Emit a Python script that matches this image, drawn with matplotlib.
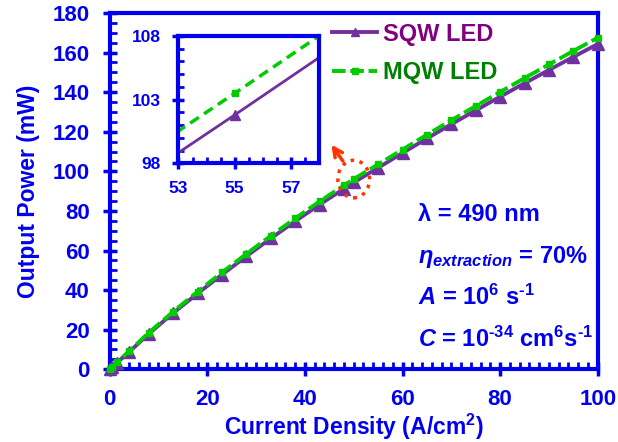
import numpy as np
import matplotlib
matplotlib.use('Agg')
import matplotlib.pyplot as plt
from matplotlib.ticker import MultipleLocator, FixedLocator
from matplotlib.patches import Ellipse

plt.rcParams['font.family'] = ['Liberation Sans', 'DejaVu Sans']
plt.rcParams['font.weight'] = 'bold'
plt.rcParams['mathtext.fontset'] = 'custom'
plt.rcParams['mathtext.rm'] = 'Liberation Sans:bold'
plt.rcParams['mathtext.it'] = 'Liberation Sans:italic:bold'
plt.rcParams['mathtext.bf'] = 'Liberation Sans:bold'

# Datos
densidad = [0, 0.5, 1.5, 4, 8, 13, 18, 23, 28, 33, 38, 43, 48, 50,
            55, 60, 65, 70, 75, 80, 85, 90, 95, 100]
potencia_sqw = [0, 1.1, 3.4, 8.8, 17.9, 28.4, 38.3, 47.8, 57.1, 66.1, 74.8, 83.2, 91.2, 94.4,
                101.8, 109.3, 116.6, 123.8, 130.8, 137.7, 144.5, 151.2, 157.8, 164.3]
potencia_mqw = [0, 1.2, 3.6, 9.2, 18.5, 29.1, 39.2, 48.9, 58.3, 67.4, 76.2, 84.8, 92.9, 96.1,
                103.5, 111.0, 118.5, 125.8, 133.0, 140.1, 147.1, 154.0, 160.8, 167.5]
etiquetas = ['SQW LED', 'MQW LED']
x_zoom = 50  # punto marcado con el circulo
ticks_x_zoom = [53, 55, 57]
ticks_y_zoom = [98, 103, 108]

azul = '#0000EE'
morado = '#7030A0'
verde = '#00CC00'
rojo = '#FF3300'

fig = plt.figure(figsize=(6.18, 4.42), dpi=100)
ax = fig.add_axes([0.1775, 0.1645, 0.7897, 0.8061])

ax.plot(densidad, potencia_sqw, color=morado, lw=2.8, marker='^', ms=8,
        label=etiquetas[0], clip_on=False, zorder=3)
ax.plot(densidad, potencia_mqw, color=verde, lw=2.8, ls=(0, (3.5, 1.2)), marker='s', ms=5,
        label=etiquetas[1], clip_on=False, zorder=4)

ax.set_xlim(0, 100)
ax.set_ylim(0, 180)
ax.xaxis.set_major_locator(MultipleLocator(20))
ax.xaxis.set_minor_locator(MultipleLocator(2))
ax.yaxis.set_major_locator(MultipleLocator(20))
ax.yaxis.set_minor_locator(MultipleLocator(5))
for s in ax.spines.values():
    s.set_color(azul)
    s.set_linewidth(3)
ax.tick_params(which='major', direction='inout', length=10, width=2.5, color=azul,
               labelcolor=azul, labelsize=16, pad=9.5)
ax.tick_params(which='minor', direction='in', length=5, width=2, color=azul)
for lab in ax.get_xticklabels() + ax.get_yticklabels():
    lab.set_fontweight('bold')

ax.set_xlabel('Current Density (A/cm$^{2}$)', color=azul, fontsize=16.5, fontweight='bold', labelpad=1)
ax.set_ylabel('Output Power (mW)', color=azul, fontsize=16.5, fontweight='bold', labelpad=9)

leg = ax.legend(loc='upper left', bbox_to_anchor=(0.432, 1.006), frameon=False, fontsize=17,
                handlelength=1.9, handletextpad=0.25, labelspacing=0.65, borderpad=0,
                markerscale=0.8, labelcolor=['#800080', '#008000'])
for t in leg.get_texts():
    t.set_fontweight('bold')

# Textos de parametros
kw = dict(transform=ax.transAxes, color=azul, fontsize=17, fontweight='bold', va='baseline', ha='left')
ax.text(0.632, 0.416, 'λ = 490 nm', **kw)
ax.text(0.632, 0.298, r'$\eta_{extraction}$ = 70%', **kw)
ax.text(0.632, 0.180, r'$A$ = 10$^{6}$ s$^{\text{-}1}$', **kw)
ax.text(0.632, 0.0626, r'$C$ = 10$^{\text{-}34}$ cm$^{6}$s$^{\text{-}1}$', **kw)

# Circulo punteado y flecha
i = densidad.index(x_zoom)
yc = potencia_mqw[i]
ax.add_patch(Ellipse((x_zoom, yc), 6.5, 19, fill=False, ec=rojo, lw=2.5, ls=(0, (1, 1.6)), zorder=5))
ax.annotate('', xy=(x_zoom - 4.9, yc + 18.5), xytext=(x_zoom - 1.9, yc + 8),
            arrowprops=dict(arrowstyle='->', color=rojo, lw=2.5, mutation_scale=16), zorder=5)

# Recuadro ampliado
axi = fig.add_axes([0.2888, 0.6305, 0.2273, 0.288])
axi.plot(densidad, potencia_sqw, color=morado, lw=2, marker='^', ms=7)
axi.plot(densidad, potencia_mqw, color=verde, lw=2.5, ls=(0, (3, 1.8)), marker='s', ms=4)
axi.set_xlim(53, 58)
axi.set_ylim(98, 108)
axi.xaxis.set_major_locator(FixedLocator(ticks_x_zoom))
axi.xaxis.set_minor_locator(MultipleLocator(0.5))
axi.yaxis.set_major_locator(FixedLocator(ticks_y_zoom))
axi.yaxis.set_minor_locator(MultipleLocator(1))
for s in axi.spines.values():
    s.set_color(azul)
    s.set_linewidth(3)
axi.tick_params(which='major', direction='inout', length=8, width=2.5, color=azul,
                labelcolor=azul, labelsize=12.5, pad=9)
axi.tick_params(which='minor', direction='in', length=4, width=2, color=azul)
for lab in axi.get_xticklabels() + axi.get_yticklabels():
    lab.set_fontweight('bold')

fig.savefig('out.png', dpi=100)
